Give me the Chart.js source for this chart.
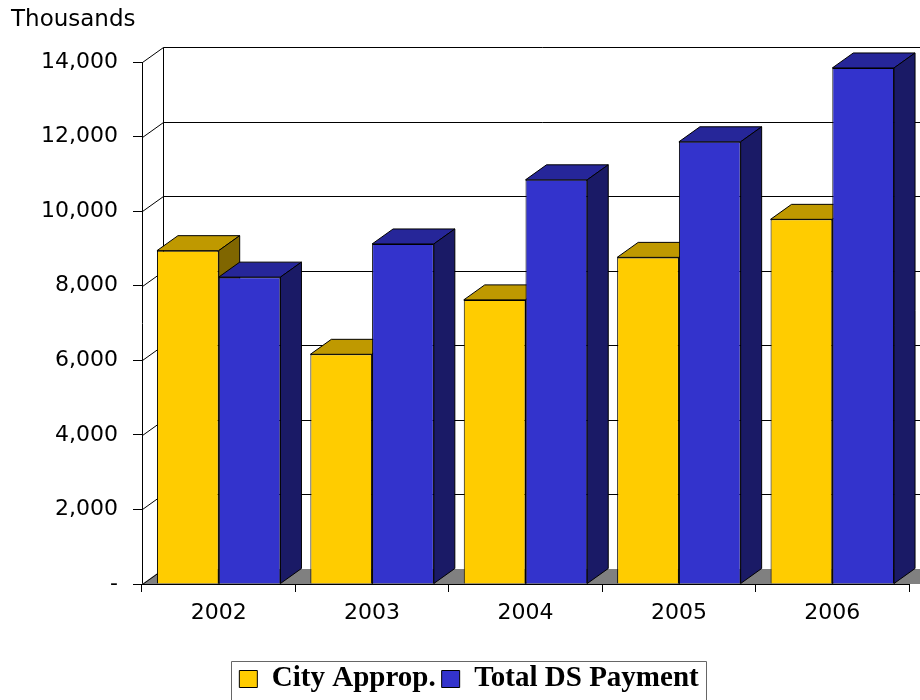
<!DOCTYPE html>
<html>
<head>
<meta charset="utf-8">
<title>City Approp. vs Total DS Payment</title>
<script src="https://cdn.jsdelivr.net/npm/chart.js@4.4.1/dist/chart.umd.min.js"></script>
<style>
  body { margin: 0; background: #fff; }
  #wrap { width: 920px; height: 700px; }
</style>
</head>
<body>
<div id="wrap"><canvas id="myChart" width="920" height="700"></canvas></div>
<script>
//-- data (in thousands) ---->
var years = ['2002', '2003', '2004', '2005', '2006'];
var cityApprop = [8940, 6160, 7620, 8760, 9780];
var totalDS = [8230, 9120, 10840, 11860, 13840];
var yMax = 14000;
var yStep = 2000;

//-- colors of the 3d faces: front, top, side
var faceColors = [
    ['#FFCC00', '#BF9900', '#806600'],   //-- City Approp.
    ['#3333CC', '#262699', '#1A1A66']    //-- Total DS Payment
];

var DX = 21, DY = 15;   //-- depth of the 3d box

function poly(ctx, pts, fill) {
    ctx.beginPath();
    ctx.moveTo(pts[0][0], pts[0][1]);
    for (let i = 1; i < pts.length; i++) ctx.lineTo(pts[i][0], pts[i][1]);
    ctx.closePath();
    if (fill) { ctx.fillStyle = fill; ctx.fill(); }
    ctx.stroke();
}

function line(ctx, x1, y1, x2, y2) {
    ctx.beginPath();
    ctx.moveTo(x1, y1);
    ctx.lineTo(x2, y2);
    ctx.stroke();
}

//-------------------------------- walls, floor, back grid and box faces ---------------->
// chart.js paints the fronts of the last dataset first, so top and side faces
// of all bars are painted here, first dataset first, before any front.
var walls = {
    id: 'walls',
    beforeDatasetsDraw(chart) {
        const ctx = chart.ctx, a = chart.chartArea, ys = chart.scales.y;
        const L = Math.round(a.left) + 0.5;
        const BL = L + DX;
        ctx.save();
        // floor
        ctx.fillStyle = '#808080';
        ctx.beginPath();
        ctx.moveTo(a.left, a.bottom);
        ctx.lineTo(a.right + DX + 40, a.bottom);
        ctx.lineTo(a.right + DX + 40, a.bottom - DY);
        ctx.lineTo(a.left + DX, a.bottom - DY);
        ctx.closePath();
        ctx.fill();
        ctx.strokeStyle = '#000';
        ctx.lineWidth = 1;
        for (let v = 0; v <= yMax; v += yStep) {
            const yf = Math.round(ys.getPixelForValue(v)) + 0.5;
            line(ctx, L, yf, BL, yf - DY);
            if (v > 0) line(ctx, BL, yf - DY, chart.width + 5, yf - DY);
        }
        const top = Math.round(ys.getPixelForValue(yMax)) + 0.5 - DY;
        const bot = Math.round(ys.getPixelForValue(0)) + 0.5 - DY;
        line(ctx, BL, top, BL, bot);

        // top and side faces of the bars
        ctx.lineJoin = 'miter';
        chart.data.datasets.forEach(function (ds, i) {
            const cols = faceColors[i];
            chart.getDatasetMeta(i).data.forEach(function (el) {
                const p = el.getProps(['x', 'y', 'base', 'width'], true);
                const l = p.x - p.width / 2, r = p.x + p.width / 2;
                const t = p.y, b = p.base;
                poly(ctx, [[l, t], [r, t], [r + DX, t - DY], [l + DX, t - DY]], cols[1]);
                poly(ctx, [[r, t], [r + DX, t - DY], [r + DX, b - DY], [r, b]], cols[2]);
            });
        });
        ctx.restore();
    }
};

//-------------------------------- legend frame ----------------------------------------->
var legendFrame = {
    id: 'legendFrame',
    afterLayout(chart) {
        // nudge the legend a little, like the original
        chart.legend.top += 3.5; chart.legend.bottom += 3.5;
        chart.legend.left += 9; chart.legend.right += 9;
    },
    afterDraw(chart) {
        const hb = chart.legend.legendHitBoxes;
        if (!hb || !hb.length) return;
        const last = hb[hb.length - 1];
        const ctx = chart.ctx;
        const x1 = Math.round(hb[0].left - 8) + 0.5;
        const x2 = Math.round(last.left + last.width + 7) + 0.5;
        const y1 = Math.round(hb[0].top - 4) + 0.5;
        ctx.save();
        ctx.strokeStyle = '#666';
        ctx.lineWidth = 1;
        ctx.beginPath();
        ctx.moveTo(x1, chart.height + 2);
        ctx.lineTo(x1, y1);
        ctx.lineTo(x2, y1);
        ctx.lineTo(x2, chart.height + 2);
        ctx.stroke();
        ctx.restore();
    }
};

Chart.defaults.font.family = 'DejaVu Sans';
Chart.defaults.color = '#000';

var ctx = document.getElementById('myChart');
var myChart = new Chart(ctx, {
    type: 'bar',
    data: {
        labels: years,
        datasets: [{
            label: 'City Approp.',
            data: cityApprop,
            backgroundColor: faceColors[0][0],
            borderColor: '#000',
            borderWidth: 1
        }, {
            label: 'Total DS Payment',
            data: totalDS,
            backgroundColor: faceColors[1][0],
            borderColor: '#000',
            borderWidth: 1
        }]
    },
    options: {
        responsive: false,
        devicePixelRatio: 1,
        animation: false,
        categoryPercentage: 0.805,
        barPercentage: 1,
        layout: { padding: { left: 11, right: 11, top: 0, bottom: 0 } },
        plugins: {
            title: {
                display: true,
                text: 'Thousands',
                align: 'start',
                color: '#000',
                font: { family: 'DejaVu Sans', size: 23, weight: 'normal' },
                padding: { top: 6, bottom: 28.4 }
            },
            legend: {
                position: 'bottom',
                labels: {
                    color: '#000',
                    font: { family: 'Liberation Serif', size: 29, weight: 'bold' },
                    boxWidth: 18,
                    boxHeight: 17,
                    padding: 6
                }
            },
            tooltip: { enabled: false }
        },
        scales: {
            x: {
                grid: { offset: true, drawOnChartArea: false, tickLength: 8, color: '#000' },
                border: { color: '#000' },
                ticks: { padding: 8, color: '#000', font: { size: 22 } },
                afterFit(scale) { scale.height = 71; }
            },
            y: {
                min: 0,
                max: yMax,
                grid: { drawOnChartArea: false, tickLength: 9, color: '#000' },
                border: { color: '#000' },
                ticks: {
                    stepSize: yStep,
                    padding: 15,
                    color: '#000',
                    font: { size: 22 },
                    callback: function (v) { return v === 0 ? '-' : v.toLocaleString('en-US'); }
                },
                afterFit(scale) { scale.width = 131; }
            }
        }
    },
    plugins: [walls, legendFrame]
});
</script>
</body>
</html>
